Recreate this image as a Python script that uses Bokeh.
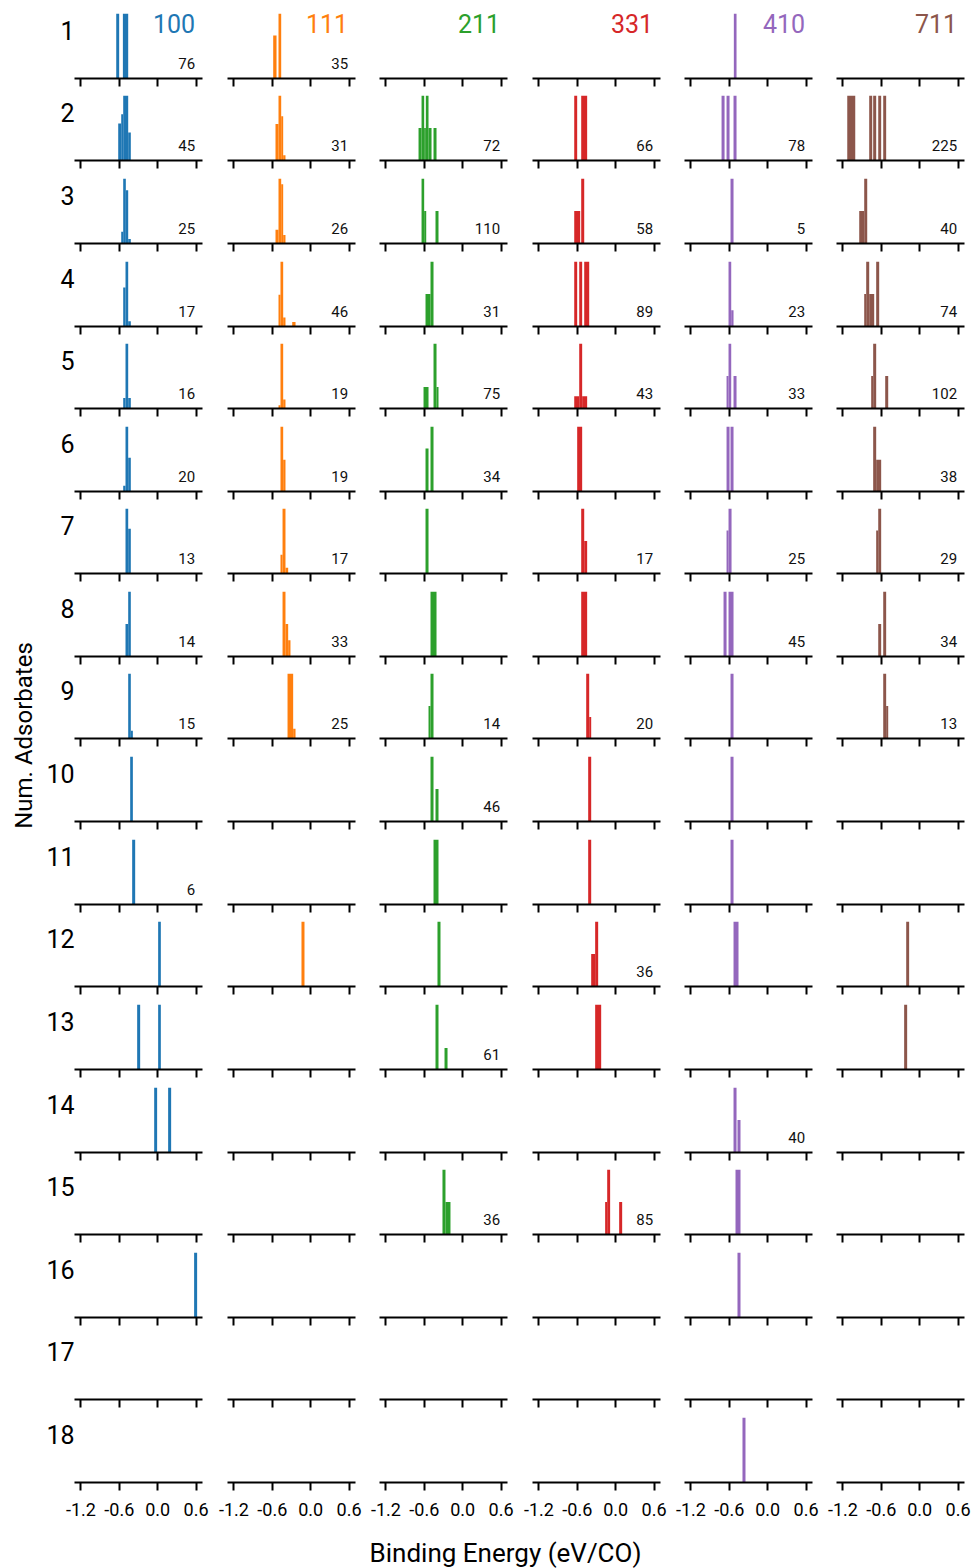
from math import pi

from bokeh.embed import file_html
from bokeh.layouts import column, gridplot, row
from bokeh.models import (CustomJSTickFormatter, FixedTicker, Label,
                          PrintfTickFormatter, Range1d)
from bokeh.plotting import figure
from bokeh.resources import INLINE

# ---------------------------------------------------------------------------
# Data: binding-energy histograms of CO adsorbates per facet and coverage.
# Each bar is (left edge eV, right edge eV, relative frequency).
# ---------------------------------------------------------------------------
facets = ["100", "111", "211", "331", "410", "711"]
facet_colors = ["#1f77b4", "#ff7f0e", "#2ca02c", "#d62728", "#9467bd", "#8c564b"]
n_adsorbates = list(range(1, 19))
energy_ticks = [-1.2, -0.6, 0.0, 0.6]

bars_100 = {
    1: [(-0.648, -0.602, 1), (-0.544, -0.461, 1)],
    2: [(-0.617, -0.570, 0.57), (-0.570, -0.539, 0.71), (-0.539, -0.461, 1), (-0.461, -0.420, 0.43)],
    3: [(-0.570, -0.539, 0.18), (-0.539, -0.498, 1), (-0.498, -0.461, 0.82), (-0.461, -0.420, 0.07)],
    4: [(-0.539, -0.503, 0.60), (-0.503, -0.461, 1), (-0.461, -0.420, 0.08)],
    5: [(-0.539, -0.503, 0.16), (-0.503, -0.461, 1), (-0.461, -0.420, 0.16)],
    6: [(-0.539, -0.503, 0.09), (-0.503, -0.461, 1), (-0.461, -0.420, 0.52)],
    7: [(-0.503, -0.461, 1), (-0.461, -0.420, 0.69)],
    8: [(-0.503, -0.461, 0.5), (-0.461, -0.420, 1)],
    9: [(-0.461, -0.420, 1), (-0.420, -0.388, 0.12)],
    10: [(-0.430, -0.388, 1)],
    11: [(-0.399, -0.352, 1)],
    12: [(0.007, 0.049, 1)],
    13: [(-0.321, -0.274, 1), (0.007, 0.049, 1)],
    14: [(-0.055, -0.009, 1), (0.163, 0.210, 1)],
    16: [(0.569, 0.616, 1)],
}
bars_111 = {
    1: [(-0.586, -0.534, 0.66), (-0.503, -0.461, 1)],
    2: [(-0.550, -0.503, 0.56), (-0.503, -0.461, 1), (-0.461, -0.430, 0.68), (-0.430, -0.394, 0.08)],
    3: [(-0.550, -0.503, 0.21), (-0.503, -0.461, 1), (-0.461, -0.430, 0.91), (-0.430, -0.394, 0.13)],
    4: [(-0.503, -0.472, 0.49), (-0.472, -0.430, 1), (-0.430, -0.394, 0.14), (-0.289, -0.237, 0.07)],
    5: [(-0.503, -0.472, 0.05), (-0.472, -0.430, 1), (-0.430, -0.394, 0.14)],
    6: [(-0.472, -0.430, 1), (-0.430, -0.394, 0.49)],
    7: [(-0.472, -0.440, 0.29), (-0.440, -0.394, 1), (-0.394, -0.352, 0.09)],
    8: [(-0.440, -0.394, 1), (-0.394, -0.352, 0.5), (-0.352, -0.316, 0.25)],
    9: [(-0.362, -0.274, 1), (-0.274, -0.237, 0.15)],
    12: [(-0.144, -0.097, 1)],
}
bars_211 = {
    2: [(-0.690, -0.643, 0.5), (-0.643, -0.602, 1), (-0.602, -0.576, 0.5), (-0.576, -0.534, 1),
        (-0.534, -0.487, 0.5), (-0.456, -0.409, 0.5)],
    3: [(-0.643, -0.602, 1), (-0.602, -0.570, 0.5), (-0.425, -0.378, 0.5)],
    4: [(-0.581, -0.503, 0.5), (-0.503, -0.456, 1)],
    5: [(-0.612, -0.534, 0.33), (-0.456, -0.409, 1), (-0.409, -0.378, 0.33)],
    6: [(-0.581, -0.534, 0.66), (-0.503, -0.456, 1)],
    7: [(-0.581, -0.534, 1)],
    8: [(-0.503, -0.409, 1)],
    9: [(-0.534, -0.503, 0.5), (-0.503, -0.456, 1)],
    10: [(-0.503, -0.456, 1), (-0.425, -0.378, 0.5)],
    11: [(-0.456, -0.378, 1)],
    12: [(-0.394, -0.347, 1)],
    13: [(-0.425, -0.378, 1), (-0.284, -0.237, 0.33)],
    15: [(-0.316, -0.269, 1), (-0.269, -0.191, 0.5)],
}
bars_331 = {
    2: [(-0.648, -0.602, 1), (-0.539, -0.446, 1)],
    3: [(-0.648, -0.555, 0.5), (-0.539, -0.492, 1)],
    4: [(-0.648, -0.602, 1), (-0.570, -0.524, 1), (-0.492, -0.414, 1)],
    5: [(-0.648, -0.570, 0.19), (-0.570, -0.524, 1), (-0.524, -0.446, 0.19)],
    6: [(-0.602, -0.524, 1)],
    7: [(-0.539, -0.492, 1), (-0.492, -0.446, 0.5)],
    8: [(-0.539, -0.446, 1)],
    9: [(-0.461, -0.414, 1), (-0.414, -0.383, 0.33)],
    10: [(-0.430, -0.383, 1)],
    11: [(-0.430, -0.383, 1)],
    12: [(-0.383, -0.321, 0.5), (-0.321, -0.274, 1)],
    13: [(-0.321, -0.227, 1)],
    15: [(-0.165, -0.133, 0.5), (-0.133, -0.087, 1), (0.054, 0.101, 0.5)],
}
bars_410 = {
    1: [(-0.529, -0.487, 1)],
    2: [(-0.721, -0.674, 1), (-0.643, -0.596, 1), (-0.534, -0.487, 1)],
    3: [(-0.581, -0.534, 1)],
    4: [(-0.612, -0.570, 1), (-0.570, -0.534, 0.25)],
    5: [(-0.643, -0.612, 0.5), (-0.612, -0.570, 1), (-0.534, -0.487, 0.5)],
    6: [(-0.643, -0.596, 1), (-0.581, -0.534, 1)],
    7: [(-0.643, -0.612, 0.66), (-0.612, -0.565, 1)],
    8: [(-0.690, -0.643, 1), (-0.612, -0.534, 1)],
    9: [(-0.581, -0.534, 1)],
    10: [(-0.581, -0.534, 1)],
    11: [(-0.581, -0.534, 1)],
    12: [(-0.534, -0.456, 1)],
    14: [(-0.534, -0.487, 1), (-0.472, -0.425, 0.5)],
    15: [(-0.503, -0.425, 1)],
    16: [(-0.472, -0.425, 1)],
    18: [(-0.394, -0.347, 1)],
}
bars_711 = {
    2: [(-1.132, -1.007, 1), (-0.789, -0.742, 1), (-0.727, -0.680, 1), (-0.648, -0.602, 1), (-0.570, -0.524, 1)],
    3: [(-0.945, -0.867, 0.5), (-0.867, -0.820, 1)],
    4: [(-0.867, -0.836, 0.5), (-0.836, -0.789, 1), (-0.789, -0.711, 0.5), (-0.680, -0.633, 1)],
    5: [(-0.758, -0.727, 0.5), (-0.727, -0.680, 1), (-0.539, -0.492, 0.5)],
    6: [(-0.727, -0.680, 1), (-0.680, -0.602, 0.49)],
    7: [(-0.680, -0.648, 0.66), (-0.648, -0.602, 1)],
    8: [(-0.648, -0.602, 0.5), (-0.570, -0.524, 1)],
    9: [(-0.570, -0.524, 1), (-0.524, -0.492, 0.5)],
    12: [(-0.211, -0.165, 1)],
    13: [(-0.243, -0.196, 1)],
}

# Number of configurations sampled for each panel
counts_100 = {1: 76, 2: 45, 3: 25, 4: 17, 5: 16, 6: 20, 7: 13, 8: 14, 9: 15, 11: 6}
counts_111 = {1: 35, 2: 31, 3: 26, 4: 46, 5: 19, 6: 19, 7: 17, 8: 33, 9: 25}
counts_211 = {2: 72, 3: 110, 4: 31, 5: 75, 6: 34, 9: 14, 10: 46, 13: 61, 15: 36}
counts_331 = {2: 66, 3: 58, 4: 89, 5: 43, 7: 17, 9: 20, 12: 36, 15: 85}
counts_410 = {2: 78, 3: 5, 4: 23, 5: 33, 7: 25, 8: 45, 14: 40}
counts_711 = {2: 225, 3: 40, 4: 74, 5: 102, 6: 38, 7: 29, 8: 34, 9: 13}

bars_by_facet = [bars_100, bars_111, bars_211, bars_331, bars_410, bars_711]
counts_by_facet = [counts_100, counts_111, counts_211, counts_331, counts_410, counts_711]

# ---------------------------------------------------------------------------
# Layout
# ---------------------------------------------------------------------------
FONT = "Roboto"
X_LO, X_HI = -1.3, 0.7
FRAME_W, FRAME_H = 128, 65
BOTTOM = 14
LAST_BOTTOM = 43
ROW_LABEL_Y = 48 / FRAME_H
col_left = [34, 13, 12, 13, 12, 12]
col_right = [12, 12, 12, 12, 12, 13]
row_base = [round(77.7 + 82.6 * i) for i in range(len(n_adsorbates))]


def panel(r, c):
    last = r == len(n_adsorbates) - 1
    n = n_adsorbates[r]
    top = 13 if r == 0 else row_base[r] - row_base[r - 1] - FRAME_H - BOTTOM
    bottom = LAST_BOTTOM if last else BOTTOM
    p = figure(
        width=col_left[c] + FRAME_W + col_right[c],
        height=top + FRAME_H + bottom,
        x_range=Range1d(X_LO, X_HI),
        y_range=Range1d(0, 1),
        output_backend="svg",
        toolbar_location=None,
        y_axis_location="left" if c == 0 else None,
        title=None,
        min_border_left=col_left[c],
        min_border_right=col_right[c],
        min_border_top=top,
        min_border_bottom=bottom,
    )
    p.outline_line_color = None
    p.grid.grid_line_color = None
    p.background_fill_color = "white"
    p.border_fill_color = "white"

    ax = p.xaxis[0]
    ax.ticker = FixedTicker(ticks=energy_ticks, minor_ticks=[])
    ax.axis_line_width = 2
    ax.axis_line_color = "black"
    ax.major_tick_line_width = 2
    ax.major_tick_line_color = "black"
    ax.major_tick_out = 8
    ax.major_tick_in = 0
    ax.minor_tick_line_color = None
    if last:
        ax.formatter = PrintfTickFormatter(format="%.1f")
        ax.major_label_text_font = FONT
        ax.major_label_text_font_size = "18px"
        ax.major_label_text_color = "black"
        ax.major_label_standoff = 12
    else:
        ax.formatter = CustomJSTickFormatter(code="return ''")
        ax.major_label_text_font_size = "0px"
        ax.major_label_standoff = 0

    # the row number sits on the left of the first column as a single tick label
    if c == 0:
        ya = p.yaxis[0]
        ya.ticker = FixedTicker(ticks=[ROW_LABEL_Y], minor_ticks=[])
        ya.formatter = CustomJSTickFormatter(code=f"return '{n}'")
        ya.axis_line_color = None
        ya.major_tick_line_color = None
        ya.minor_tick_line_color = None
        ya.major_tick_in = 0
        ya.major_tick_out = 0
        ya.major_label_standoff = 0
        ya.major_label_text_font = FONT
        ya.major_label_text_font_size = "25px"
        ya.major_label_text_color = "black"

    bars = bars_by_facet[c].get(n, [])
    if bars:
        hmax = max(b[2] for b in bars)
        p.quad(
            left=[b[0] for b in bars],
            right=[b[1] for b in bars],
            top=[b[2] / hmax for b in bars],
            bottom=[0] * len(bars),
            fill_color=facet_colors[c],
            line_color=None,
        )

    if n in counts_by_facet[c]:
        p.add_layout(Label(
            x=0.585, y=15 / FRAME_H, text=str(counts_by_facet[c][n]),
            text_align="right", text_baseline="middle",
            text_font=FONT, text_font_size="15px", text_color="#111111",
        ))
    if r == 0:
        p.add_layout(Label(
            x=0.585, y=55 / FRAME_H, text=facets[c],
            text_align="right", text_baseline="middle",
            text_font=FONT, text_font_size="25px", text_color=facet_colors[c],
        ))
    return p


panels = [[panel(r, c) for c in range(len(facets))] for r in range(len(n_adsorbates))]
grid = gridplot(panels, toolbar_location=None)

grid_height = row_base[-1] + LAST_BOTTOM


def blank(width, height):
    f = figure(
        width=width, height=height,
        x_range=Range1d(0, width), y_range=Range1d(0, height),
        output_backend="svg", toolbar_location=None, title=None,
        x_axis_location=None, y_axis_location=None, min_border=0,
    )
    f.outline_line_color = None
    f.grid.grid_line_color = None
    f.border_fill_color = "white"
    return f


side = blank(40, grid_height)
side.add_layout(Label(
    x=23, y=grid_height - 735, text="Num. Adsorbates", angle=pi / 2,
    text_align="center", text_baseline="middle",
    text_font=FONT, text_font_size="24px", text_color="black",
))

foot_h = 1568 - grid_height
foot = blank(977, foot_h)
foot.add_layout(Label(
    x=505, y=foot_h - 27, text="Binding Energy (eV/CO)",
    text_align="center", text_baseline="middle",
    text_font=FONT, text_font_size="26px", text_color="black",
))

layout = column(row(side, grid), foot)

with open("out.html", "w") as fh:
    fh.write(file_html(layout, INLINE))
